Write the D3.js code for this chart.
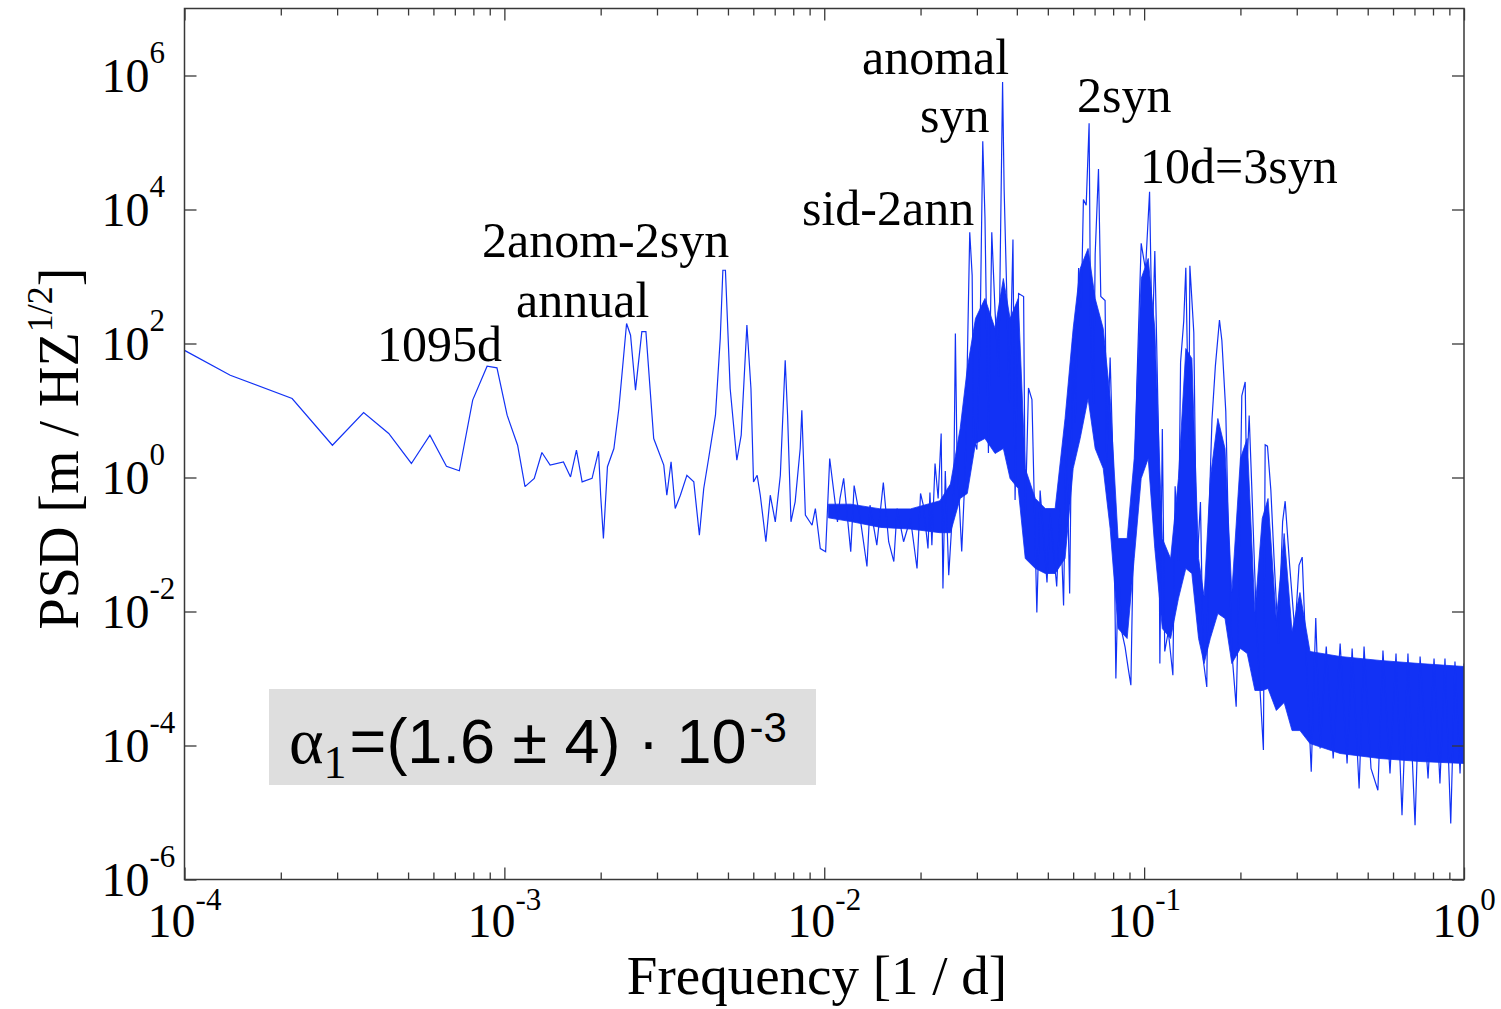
<!DOCTYPE html>
<html><head><meta charset="utf-8">
<script src="https://cdn.jsdelivr.net/npm/d3@7"></script>
<style>
html,body{margin:0;padding:0;background:#fff;}
svg{display:block;}
</style></head>
<body>
<svg id="chart" width="1501" height="1009"></svg>
<script>
// ---------------- DATA ----------------
const freq = [
1.00e-4,1.39e-4,2.17e-4,2.90e-4,3.63e-4,4.35e-4,5.12e-4,5.85e-4,6.59e-4,7.23e-4,
7.96e-4,8.83e-4,9.48e-4,1.02e-3,1.10e-3,1.16e-3,1.24e-3,1.31e-3,1.39e-3,1.53e-3,
1.61e-3,1.68e-3,1.75e-3,1.88e-3,1.97e-3,2.00e-3,2.04e-3,2.10e-3,2.20e-3,2.28e-3,
2.41e-3,2.48e-3,2.57e-3,2.69e-3,2.77e-3,2.93e-3,3.15e-3,3.22e-3,3.32e-3,3.42e-3,
3.55e-3,3.72e-3,3.91e-3,4.07e-3,4.20e-3,4.35e-3,4.57e-3,4.73e-3,4.82e-3,4.91e-3,
5.08e-3,5.33e-3,5.50e-3,5.73e-3,5.90e-3,6.01e-3,6.17e-3,6.31e-3,6.57e-3,6.78e-3,
7.03e-3,7.29e-3,7.55e-3,7.68e-3,7.87e-3,8.11e-3,8.41e-3,8.51e-3,8.73e-3,9.16e-3,
9.38e-3,9.72e-3,1.01e-2,1.04e-2,1.10e-2,1.12e-2,1.15e-2,1.21e-2,1.24e-2,1.30e-2,
1.36e-2,1.39e-2,1.46e-2,1.53e-2,1.59e-2,1.65e-2,1.69e-2,1.77e-2,1.86e-2,1.95e-2,
2.00e-2,2.04e-2,2.11e-2,2.14e-2,2.17e-2,2.22e-2,2.27e-2,2.32e-2,2.35e-2,2.39e-2,
2.45e-2,2.54e-2,2.57e-2,2.60e-2,2.69e-2,2.76e-2,2.85e-2,2.90e-2,2.93e-2,3.00e-2,
3.07e-2,3.13e-2,3.18e-2,3.26e-2,3.34e-2,3.42e-2,3.51e-2,3.61e-2,3.65e-2,3.72e-2,
3.79e-2,3.89e-2,3.95e-2,4.05e-2,4.20e-2,4.25e-2,4.35e-2,4.46e-2,4.62e-2,4.73e-2,
4.97e-2,5.08e-2,5.33e-2,5.46e-2,5.60e-2,5.71e-2,5.85e-2,5.98e-2,6.09e-2,6.24e-2,
6.36e-2,6.46e-2,6.59e-2,6.73e-2,6.81e-2,6.95e-2,7.03e-2,7.20e-2,7.32e-2,7.55e-2,
7.64e-2,7.83e-2,8.02e-2,8.16e-2,8.31e-2,8.51e-2,8.72e-2,8.93e-2,9.09e-2,9.26e-2,
9.49e-2,9.79e-2,0.101,0.104,0.106,0.108,0.111,0.112,0.114,0.116,
0.119,0.123,0.125,0.128,0.130,0.133,0.135,0.138,0.139,0.143,
0.146,0.150,0.153,0.157,0.159,0.163,0.167,0.172,0.175,0.180,
0.183,0.188,0.194,0.197,0.202,0.207,0.209,0.213,0.217,0.225,
0.236,0.239,0.243,0.249,0.255,0.263,0.271,0.276,0.285,0.296,
0.305,0.312,0.319,0.333,0.344,0.355,0.371,0.390,0.410,0.431,
0.447,0.470,0.487,0.512,0.538,0.558,0.587,0.613,0.640,0.668,
0.703,0.729,0.772,0.806,0.841,0.872,0.909,0.937,0.972,1.00];

const psd = [
79,33.6,15.1,3.03,9.33,4.54,1.62,4.28,1.47,1.26,
14.3,45.8,43.4,8.51,3.03,0.73,0.97,2.36,1.53,1.71,
1.02,2.56,0.86,0.97,2.47,0.544,0.123,1.45,2.71,10.7,
199,133,20.1,150,150,3.82,1.53,0.544,1.71,0.344,
0.544,1.08,0.86,0.138,0.685,1.92,8.51,119,1240,1240,
21.3,1.81,4.28,188,21.3,0.86,1.08,0.544,0.110,0.544,
0.218,1.08,56.3,8.51,0.218,0.434,2.71,10.1,0.274,0.194,
0.344,0.0871,0.0778,1.92,0.218,0.486,0.97,0.0778,0.760,0.218,
0.047,0.386,0.0977,0.842,0.110,0.0557,0.344,0.110,0.244,0.0438,
0.577,0.386,0.0871,0.597,0.0977,1.62,0.486,4.54,0.0220,1.25,
0.0348,0.612,141,2.06,0.0787,1.36,4580,1040,3.82,2.62,
141,1.04e5,7600,2.32,4580,300,31.6,8.0e5,2.06e4,557,
13.2,3560,0.462,557,503,0.253,21.7,14.6,0.00966,0.640,
0.0271,0.290,0.0236,0.351,0.0123,5.85,0.0186,119,6.62,1340,
339,1.41e4,1.16e4,1.94e5,91.4,12.8,2130,4.02e4,503,438,
1.58,61.8,0.934,0.001,0.046,0.00503,0.00294,0.00136,0.000794,0.132,
24.7,3130,1260,1.84e4,91.4,2410,3.44,0.00167,5.28,0.00253,
0.00503,0.00112,0.741,0.0567,52.6,217,1350,3.76,1450,145,
0.0378,0.431,0.00192,0.000746,0.168,7.39,46.0,224,111,9.70,
0.251,0.00252,0.000379,0.00853,16.6,26.7,0.973,8.45,0.741,0.00496,
8.57e-5,3.07,2.94,0.646,0.0567,0.00331,0.220,0.443,0.0494,0.00496,
0.0494,0.0648,0.00434,4.07e-5,0.00797,9.02e-5,0.00300,6.40e-5,0.00333,5.39e-5,
0.00281,2.28e-5,0.00300,4.54e-5,2.15e-5,0.00262,3.82e-5,0.00236,9.12e-6,0.00236,
6.46e-6,0.00213,3.22e-5,0.00199,2.71e-5,0.00199,6.85e-6,0.00179,3.82e-5,0.00167];

// dense, unresolved part of the spectrum: envelope of the solid blue band
const bandFreq = [
1.03e-2,1.21e-2,1.50e-2,1.86e-2,2.30e-2,2.48e-2,2.66e-2,2.80e-2,2.97e-2,3.18e-2,
3.42e-2,3.63e-2,3.81e-2,4.04e-2,4.25e-2,4.57e-2,4.91e-2,5.27e-2,5.66e-2,6.00e-2,
6.31e-2,6.68e-2,7.03e-2,7.45e-2,7.83e-2,8.29e-2,8.85e-2,9.31e-2,9.79e-2,0.103,
0.108,0.114,0.121,0.128,0.135,0.141,0.148,0.154,0.161,0.170,
0.179,0.188,0.200,0.210,0.222,0.234,0.244,0.259,0.274,0.290,
0.307,0.330,0.410,0.546,0.729,1.00];
const bandUpper = [
0.40,0.40,0.34,0.34,0.45,0.80,5.39,42.4,236,470,
167,934,236,470,1.36,0.486,0.344,0.344,7.6,167,
1320,2620,470,167,15.1,0.123,0.123,1.92,934,1860,
167,0.123,0.0618,0.966,84.2,59.7,0.0618,0.0167,0.966,7.6,
2.71,0.0192,1.92,3.82,0.00966,0.244,0.486,0.00734,0.146,0.00503,
0.0192,0.00253,0.00213,0.00186,0.00167,0.00151];
const bandLower = [
0.25,0.22,0.18,0.17,0.15,0.15,0.486,0.577,3.22,3.82,
2.28,2.71,0.966,0.685,0.0618,0.0438,0.0369,0.0369,0.0618,1.36,
3.82,15.1,2.71,1.36,0.173,0.00557,0.00395,0.0618,0.966,1.92,
0.0871,0.00557,0.00395,0.0156,0.0438,0.0369,0.00395,0.00167,0.00395,0.00933,
0.00787,0.00167,0.00281,0.00236,0.000662,0.000662,0.00071,0.000333,0.000438,0.000167,
0.000167,0.000107,7.60e-5,6.40e-5,5.77e-5,5.39e-5];

const xTickValues = [1e-4,1e-3,1e-2,1e-1,1e0];
const xTickExponents = ["-4","-3","-2","-1","0"];
const yTickValues = [1e-6,1e-4,1e-2,1e0,1e2,1e4,1e6];
const yTickExponents = ["-6","-4","-2","0","2","4","6"];
const peakLabels = ["1095d","annual","2anom-2syn","sid-2ann","syn","anomal","2syn","10d=3syn"];
const xAxisTitle = "Frequency [1 / d]";
const yAxisTitleMain = "PSD [m / HZ";
const yAxisTitleSup = "1/2";
const boxText = {greek:"α", sub:"1", main:"=(1.6 ± 4) · 10", sup:"-3"};

// ---------------- LAYOUT ----------------
const W = 1501, H = 1009;
const M = {left:184.5, top:8.5, right:1464, bottom:879.5};
const serif = "'Liberation Serif','Times New Roman',serif";
const sans = "'Liberation Sans',Arial,sans-serif";
const blue = "#1232f5";
const axisColor = "#383838";
const peakLabelPos = [
  {x:377,y:361},{x:516,y:317},{x:482,y:257},{x:802,y:225},
  {x:920,y:132},{x:862,y:74},{x:1077,y:112},{x:1140,y:183}];

const svg = d3.select("#chart");
svg.append("rect").attr("width",W).attr("height",H).attr("fill","#fff");

const x = d3.scaleLog().domain([1e-4,1]).range([M.left,M.right]);
const y = d3.scaleLog().domain([1e-6,1e7]).range([M.bottom,M.top]);

svg.append("defs").append("clipPath").attr("id","plotclip")
  .append("rect").attr("x",M.left).attr("y",M.top)
  .attr("width",M.right-M.left).attr("height",M.bottom-M.top);

// annotation box (behind data)
svg.append("rect").attr("x",269).attr("y",689).attr("width",547).attr("height",96)
  .attr("fill","#dedede");

const plot = svg.append("g").attr("clip-path","url(#plotclip)");

// band
const band = bandFreq.map((f,i)=>({f, hi:bandUpper[i], lo:bandLower[i]}));
plot.append("path").datum(band)
  .attr("d", d3.area().x(d=>x(d.f)).y0(d=>y(d.lo)).y1(d=>y(d.hi)))
  .attr("fill",blue).attr("stroke",blue).attr("stroke-width",0.8);

// spectrum line
const series = freq.map((f,i)=>({f, p:psd[i]}));
plot.append("path").datum(series)
  .attr("d", d3.line().x(d=>x(d.f)).y(d=>y(d.p)))
  .attr("fill","none").attr("stroke",blue).attr("stroke-width",1.2)
  .attr("stroke-linejoin","miter").attr("stroke-miterlimit",2);

// axes ticks (inward)
const minorX = [];
[1e-4,1e-3,1e-2,1e-1].forEach(d=>{for(let k=2;k<=9;k++) minorX.push(d*k);});
function styleAxis(g){
  g.select(".domain").remove();
  g.selectAll(".tick line").attr("stroke",axisColor).attr("stroke-width",1.3);
  g.selectAll(".tick text").remove();
}
svg.append("g").attr("transform",`translate(0,${M.bottom})`)
  .call(d3.axisBottom(x).tickValues(xTickValues).tickSize(-12).tickFormat("")).call(styleAxis);
svg.append("g").attr("transform",`translate(0,${M.bottom})`)
  .call(d3.axisBottom(x).tickValues(minorX).tickSize(-7).tickFormat("")).call(styleAxis);
svg.append("g").attr("transform",`translate(0,${M.top})`)
  .call(d3.axisTop(x).tickValues(xTickValues).tickSize(-12).tickFormat("")).call(styleAxis);
svg.append("g").attr("transform",`translate(0,${M.top})`)
  .call(d3.axisTop(x).tickValues(minorX).tickSize(-7).tickFormat("")).call(styleAxis);
svg.append("g").attr("transform",`translate(${M.left},0)`)
  .call(d3.axisLeft(y).tickValues(yTickValues).tickSize(-12).tickFormat("")).call(styleAxis);
svg.append("g").attr("transform",`translate(${M.right},0)`)
  .call(d3.axisRight(y).tickValues(yTickValues).tickSize(-12).tickFormat("")).call(styleAxis);

// frame
svg.append("rect").attr("x",M.left).attr("y",M.top)
  .attr("width",M.right-M.left).attr("height",M.bottom-M.top)
  .attr("fill","none").attr("stroke",axisColor).attr("stroke-width",1.5);

// x tick labels
xTickValues.forEach((v,i)=>{
  const t = svg.append("text").attr("x",x(v)).attr("y",937)
    .attr("text-anchor","middle").attr("font-family",serif).attr("font-size",48).attr("fill","#000");
  t.append("tspan").text("10");
  t.append("tspan").attr("font-size",31).attr("dy",-27).text(xTickExponents[i]);
});
// y tick labels
yTickValues.forEach((v,i)=>{
  const t = svg.append("text").attr("x",101.5).attr("y",y(v)+16.5)
    .attr("text-anchor","start").attr("font-family",serif).attr("font-size",48).attr("fill","#000");
  t.append("tspan").text("10");
  t.append("tspan").attr("font-size",31).attr("dy",-29).text(yTickExponents[i]);
});

// axis titles
svg.append("text").attr("x",817).attr("y",994).attr("text-anchor","middle")
  .attr("font-family",serif).attr("font-size",55).attr("fill","#000").text(xAxisTitle);
const yt = svg.append("text").attr("transform","translate(78,448.5) rotate(-90)")
  .attr("text-anchor","middle").attr("font-family",serif).attr("font-size",56).attr("fill","#000");
yt.append("tspan").text(yAxisTitleMain);
yt.append("tspan").attr("font-size",36).attr("dy",-26).text(yAxisTitleSup);
yt.append("tspan").attr("dy",26).text("]");

// peak labels
peakLabels.forEach((s,i)=>{
  svg.append("text").attr("x",peakLabelPos[i].x).attr("y",peakLabelPos[i].y)
    .attr("font-family",serif).attr("font-size",50).attr("fill","#000").text(s);
});

// box text
const bt = svg.append("text").attr("x",289).attr("y",763).attr("fill","#000");
bt.append("tspan").attr("font-family",serif).attr("font-size",66).text(boxText.greek);
bt.append("tspan").attr("font-family",serif).attr("font-size",46).attr("dy",15).text(boxText.sub);
bt.append("tspan").attr("font-family",sans).attr("font-size",63).attr("dy",-15).attr("dx",3).text(boxText.main);
bt.append("tspan").attr("font-family",sans).attr("font-size",42).attr("dy",-21).attr("dx",3).text(boxText.sup);
</script>
</body></html>
